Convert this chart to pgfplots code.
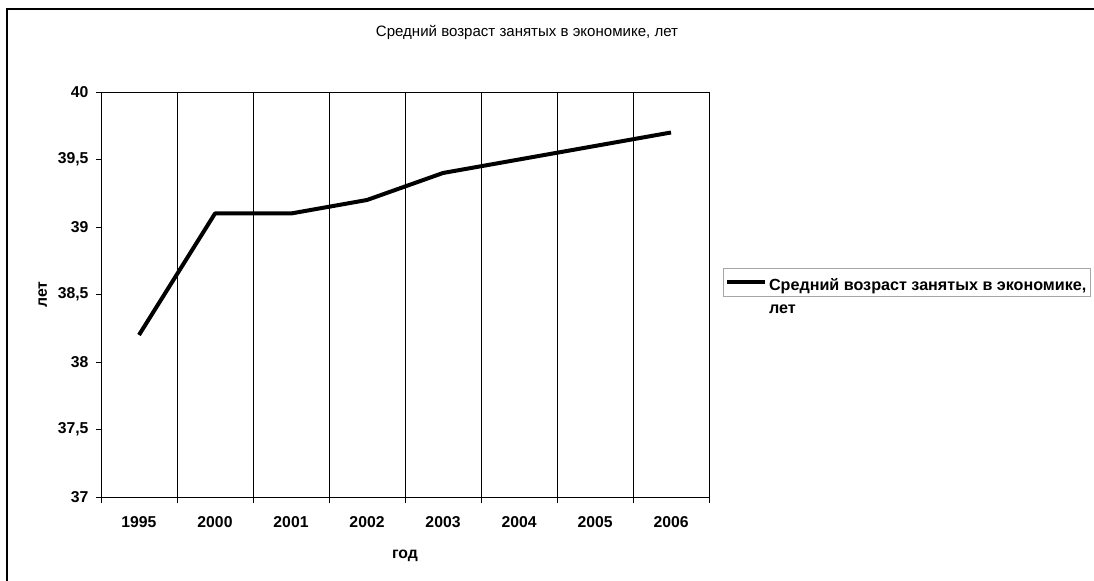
\documentclass[border=0pt]{standalone}
\usepackage{pgfplots}
\pgfplotsset{compat=1.18}
\usepackage{fontspec}
\setmainfont{Liberation Sans}
\begin{document}
\begin{tikzpicture}[x=1bp,y=1bp]
\path[use as bounding box] (0,0) rectangle (1094,581);
% outer chart border (top and left visible)
\draw[black, line width=1.6bp] (7,0) -- (7,572) -- (1094,572);
\node[font=\fontsize{15.1}{18}\selectfont] at (527,549) {Средний возраст занятых в экономике, лет};
\begin{axis}[
  at={(101bp,84bp)}, anchor=south west,
  width=608bp, height=405bp, scale only axis,
  xmin=-0.5, xmax=7.5, ymin=37, ymax=40,
  xtick={0,...,7},
  xticklabels={1995,2000,2001,2002,2003,2004,2005,2006},
  minor xtick={-0.5,0.5,...,7.5},
  xminorgrids=true,
  minor grid style={black, line width=0.9bp},
  ytick={37,37.5,...,40},
  xtick pos=bottom, ytick pos=left,
  tick align=outside,
  major x tick style={draw=none},
  minor tick length=6bp,
  major tick length=5bp,
  tick style={black, line width=0.8bp},
  axis line style={black, line width=0.9bp},
  /pgf/number format/assume math mode=true,
  /pgf/number format/use comma,
  ticklabel style={font=\bfseries\fontsize{15.8}{18}\selectfont},
  xticklabel style={yshift=-11bp},
  yticklabel style={xshift=-4bp},
  xlabel={год},
  ylabel={лет},
  label style={font=\bfseries\fontsize{15.8}{18}\selectfont},
  xlabel style={yshift=-16bp},
  ylabel style={yshift=4bp},
  legend style={at={(1.0225,0.5655)}, anchor=north west,
    draw=gray!70, line width=0.7bp,
    font=\bfseries\fontsize{16.2}{24}\selectfont,
    inner xsep=2bp, inner ysep=3bp,
    legend cell align=left},
  legend image code/.code={\draw[#1] (0bp,0bp) -- (38bp,0bp);},
]
\addplot[black, line width=4bp, line join=round] coordinates {
 (0,38.2) (1,39.1) (2,39.1) (3,39.2) (4,39.4) (5,39.5) (6,39.6) (7,39.7)};
\addlegendentry{\begin{tabular}[t]{@{}l@{}}Средний возраст занятых в экономике,\\лет\end{tabular}}
\end{axis}
\end{tikzpicture}
\end{document}
